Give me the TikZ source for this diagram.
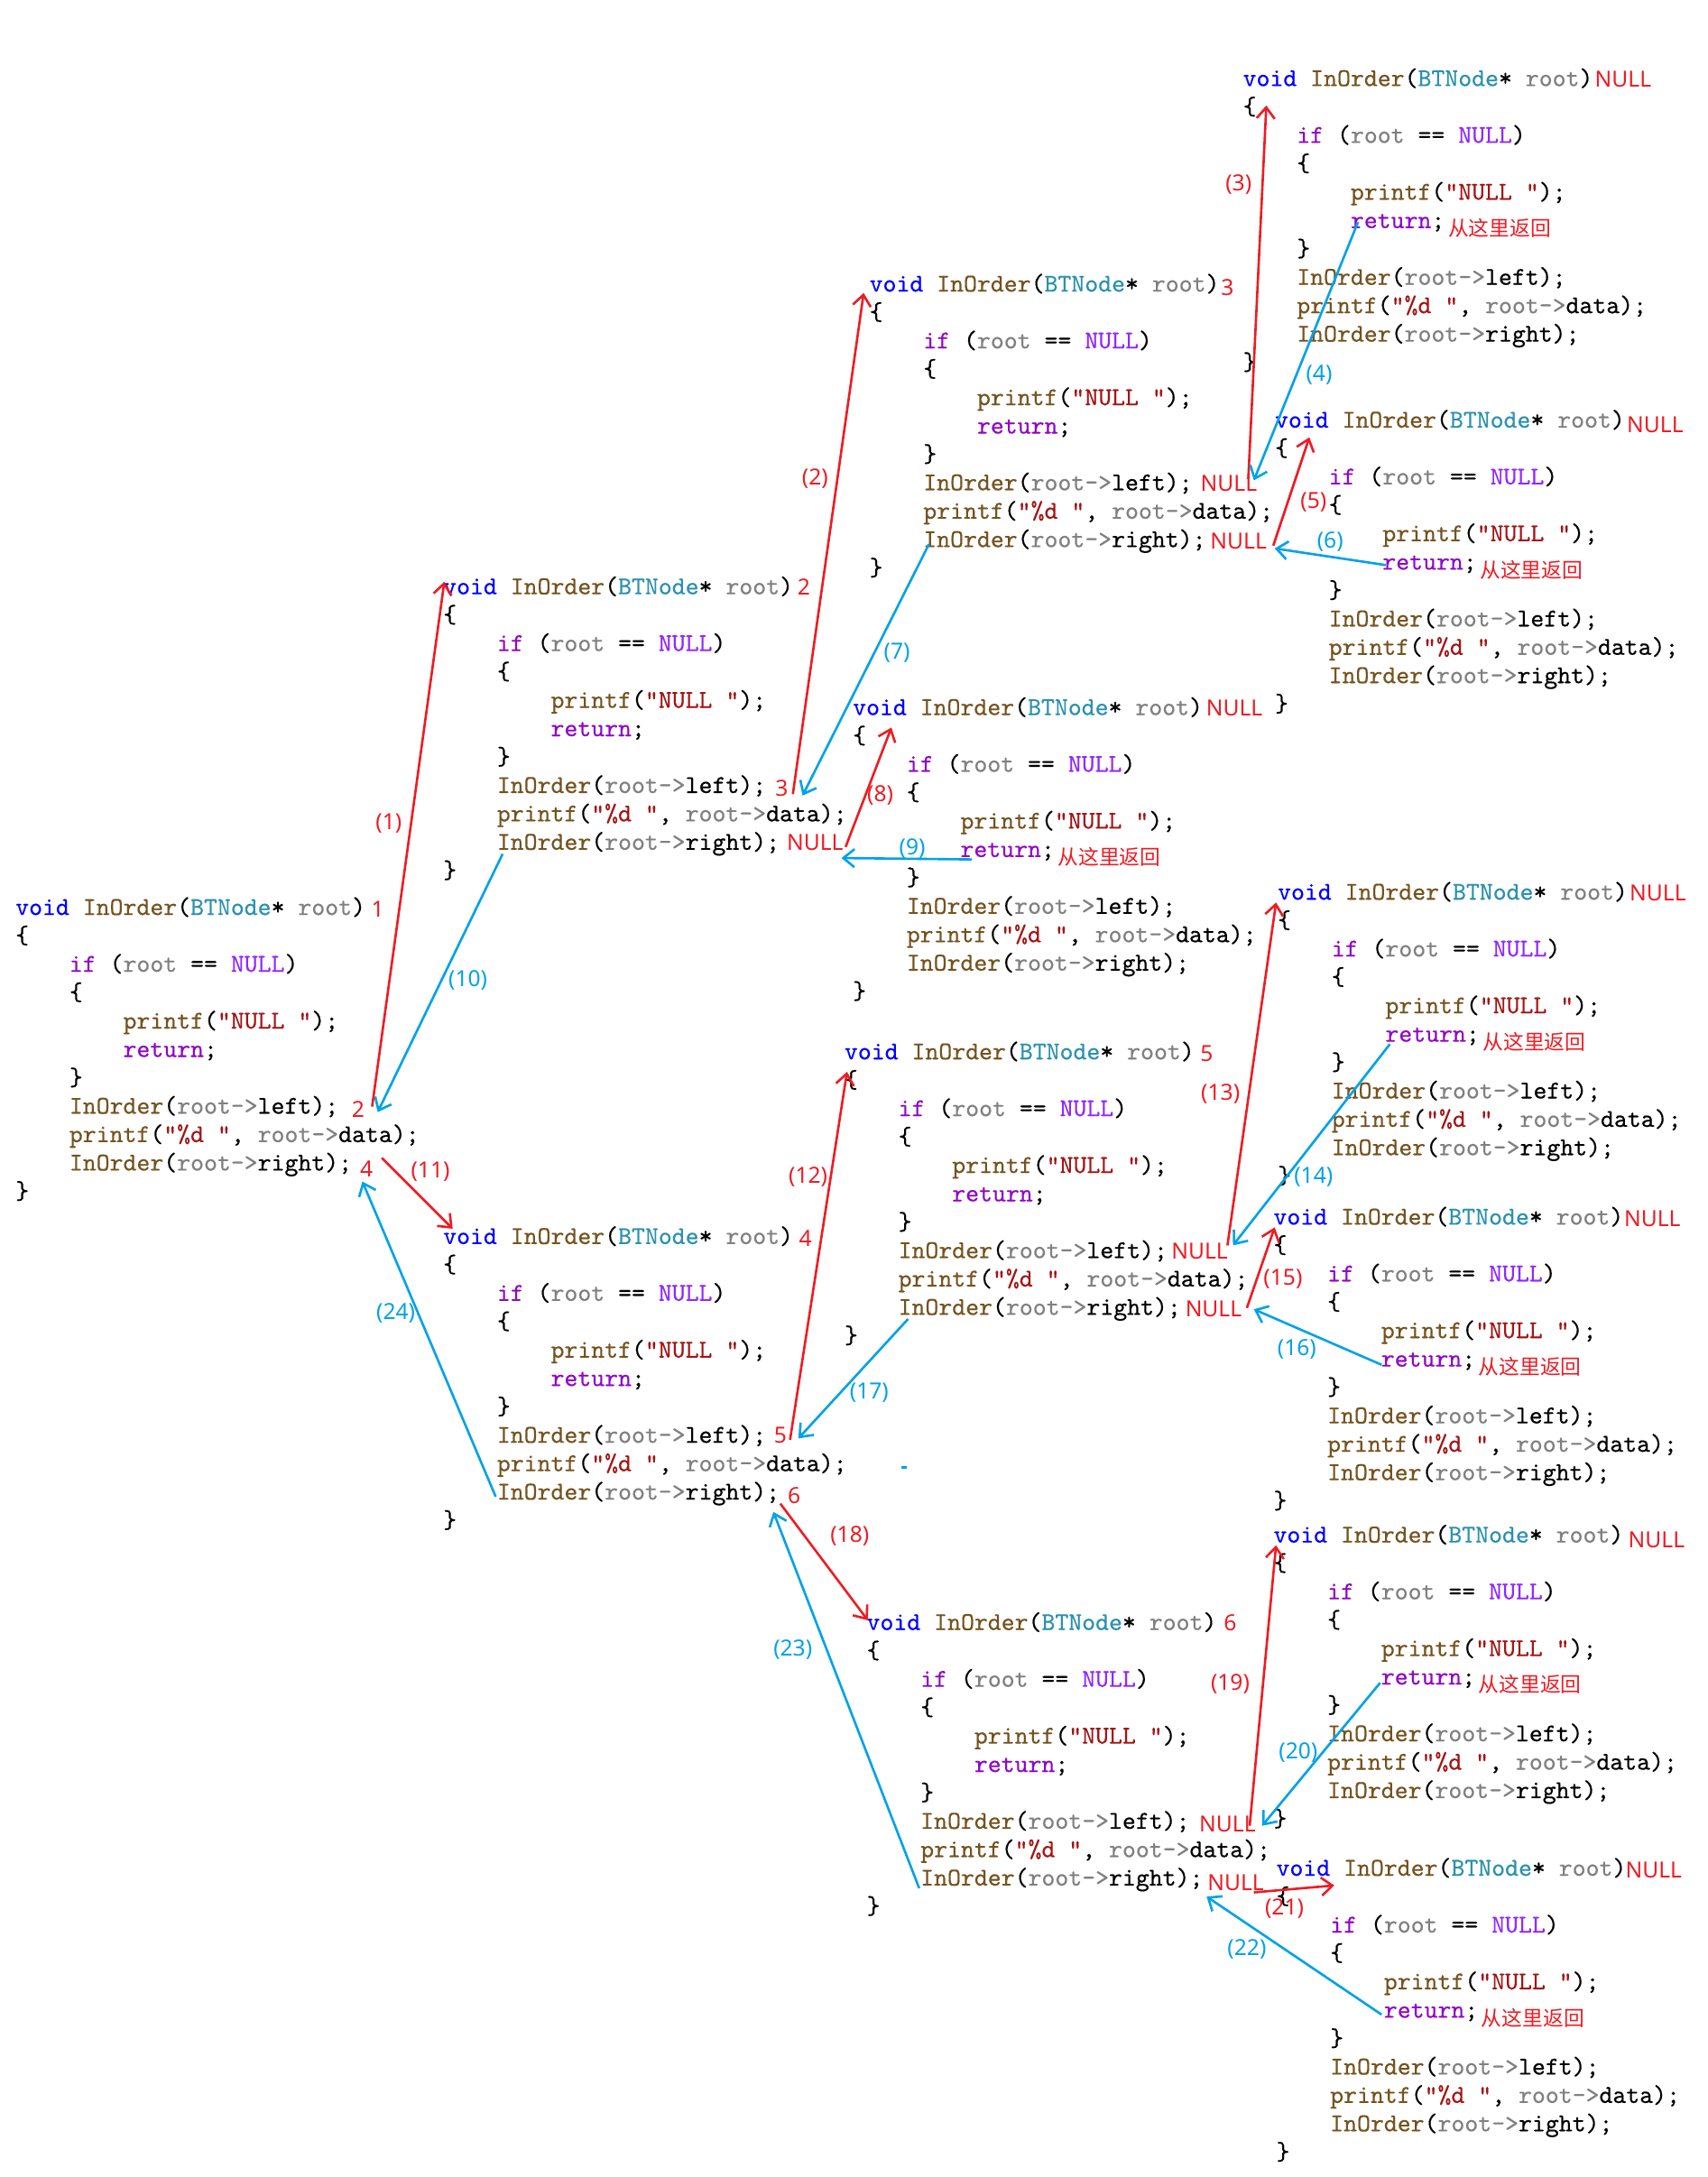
\documentclass[tikz,border=0pt]{standalone}
\usepackage{fontspec}
\usetikzlibrary{arrows.meta}
\newfontfamily\lblfont{Noto Sans}
\newfontfamily\cjkfont{Noto Sans CJK SC}
\newfontfamily\codefont{lmmono10-regular.otf}[FakeBold=0.4]
\definecolor{cvoid}{RGB}{0,0,255}
\definecolor{cfun}{RGB}{116,83,31}
\definecolor{ctype}{RGB}{43,145,175}
\definecolor{cpar}{RGB}{128,128,128}
\definecolor{ckw}{RGB}{143,8,196}
\definecolor{cmac}{RGB}{145,40,255}
\definecolor{cstr}{RGB}{163,21,21}
\definecolor{pred}{RGB}{237,28,36}
\definecolor{pblue}{RGB}{0,162,232}
\newcommand{\cw}{9.69}
\newcommand{\ls}{20.45}
\newcommand{\hdr}{\textcolor{cvoid}{void} \textcolor{cfun}{InOrder}(\textcolor{ctype}{BTNode}* \textcolor{cpar}{root})}
\newcommand{\rt}{\textcolor{cpar}{root->}}
\newcommand{\codeblock}[3]{%
 \node[code] (#1-0) at ({#2},{#3+5}) {\hdr};
 \node[code] (#1-1) at ({#2},{#3+5+\ls}) {\{};
 \node[code] (#1-2) at ({#2+4*\cw},{#3+5+2*\ls}) {\textcolor{ckw}{if} (\textcolor{cpar}{root} == \textcolor{cmac}{NULL})};
 \node[code] (#1-3) at ({#2+4*\cw},{#3+5+3*\ls}) {\{};
 \node[code] (#1-4) at ({#2+8*\cw},{#3+5+4*\ls}) {\textcolor{cfun}{printf}(\textcolor{cstr}{"NULL "});};
 \node[code] (#1-5) at ({#2+8*\cw},{#3+5+5*\ls}) {\textcolor{ckw}{return};};
 \node[code] (#1-6) at ({#2+4*\cw},{#3+5+6*\ls}) {\}};
 \node[code] (#1-7) at ({#2+4*\cw},{#3+5+7*\ls}) {\textcolor{cfun}{InOrder}(\rt left);};
 \node[code] (#1-8) at ({#2+4*\cw},{#3+5+8*\ls}) {\textcolor{cfun}{printf}(\textcolor{cstr}{"\%d "}, \rt data);};
 \node[code] (#1-9) at ({#2+4*\cw},{#3+5+9*\ls}) {\textcolor{cfun}{InOrder}(\rt right);};
 \node[code] (#1-10) at ({#2},{#3+5+10*\ls}) {\}};
}
\tikzset{
 code/.style={anchor=base west, inner sep=0pt, font=\codefont\fontsize{18.46}{20}\selectfont},
 lbl/.style={inner sep=0pt, font=\fontsize{16}{18}\selectfont\lblfont},
 rl/.style={lbl, text=pred},
 bl/.style={lbl, text=pblue},
 cjk/.style={inner sep=0pt, anchor=west, text=pred, font=\fontsize{14.8}{18}\selectfont\cjkfont},
 rarr/.style={draw=pred, line width=1.7pt, -{Straight Barb[length=8pt,width=13pt]}},
 barr/.style={draw=pblue, line width=1.7pt, -{Straight Barb[length=8pt,width=13pt]}},
}
\begin{document}
\begin{tikzpicture}[x=1pt,y=-1pt]
\fill[white] (0,0) rectangle (1230,1568);
\useasboundingbox (0,0) rectangle (1230,1568);
% code blocks
\codeblock{A}{11}{654}
\codeblock{B}{319}{423}
\codeblock{C}{626}{205}
\codeblock{D}{895}{57}
\codeblock{E}{918}{303}
\codeblock{F}{614}{510}
\codeblock{G}{319}{891}
\codeblock{H}{608}{758}
\codeblock{I}{920}{643}
\codeblock{J}{917}{877}
\codeblock{K}{624}{1169}
\codeblock{L}{917}{1106}
\codeblock{M}{919}{1346}
% value labels
\node[rl] (lA0) at (272,655) {1};
\node[rl] (lA7) at (258,799) {2};
\node[rl] (lA9) at (264,842) {4};
\node[rl] (lB0) at (579,423) {2};
\node[rl] (lB7) at (563,568) {3};
\node[rl] (lB9) at (587,607) {NULL};
\node[rl] (lC0) at (884,207) {3};
\node[rl] (lC7) at (885,348) {NULL};
\node[rl] (lC9) at (892,390) {NULL};
\node[rl] (lD0) at (1169,57) {NULL};
\node[rl] (lE0) at (1192,306) {NULL};
\node[rl] (lF0) at (889,510) {NULL};
\node[rl] (lG0) at (580,892) {4};
\node[rl] (lG7) at (562,1034) {5};
\node[rl] (lG9) at (572,1077) {6};
\node[rl] (lH0) at (869,759) {5};
\node[rl] (lH7) at (864,901) {NULL};
\node[rl] (lH9) at (874,943) {NULL};
\node[rl] (lI0) at (1194,643) {NULL};
\node[rl] (lJ0) at (1190,878) {NULL};
\node[rl] (lK0) at (886,1169) {6};
\node[rl] (lK7) at (884,1314) {NULL};
\node[rl] (lK9) at (890,1356) {NULL};
\node[rl] (lL0) at (1193,1109) {NULL};
\node[rl] (lM0) at (1191,1347) {NULL};
% return notes
\foreach \b in {D,E,F,I,J,L,M}{
 \node[cjk] (ret\b) at ([xshift=2pt]\b-5.base east) {从这里返回};
}
% arrow end points
\coordinate (a1s) at (268,797);  \coordinate (a1e) at (320,419);
\coordinate (a10s) at (362,615); \coordinate (a10e) at (272,801);
\coordinate (a11s) at (275,834); \coordinate (a11e) at (326,885);
\coordinate (a24s) at (357,1078); \coordinate (a24e) at (261,851);
\coordinate (a2s) at (571,572);  \coordinate (a2e) at (622,211);
\coordinate (a7s) at (669,392);  \coordinate (a7e) at (578,573);
\coordinate (a8s) at (609,610);  \coordinate (a8e) at (642,524);
\coordinate (a9s) at (700,619);  \coordinate (a9e) at (606,618);
\coordinate (a3s) at (899,345);  \coordinate (a3e) at (912,76);
\coordinate (a4s) at (978,160);  \coordinate (a4e) at (903,346);
\coordinate (a5s) at (917,393);  \coordinate (a5e) at (943,315);
\coordinate (a6s) at (998,407);  \coordinate (a6e) at (918,395);
\coordinate (a12s) at (569,1037); \coordinate (a12e) at (610,772);
\coordinate (a17s) at (654,950); \coordinate (a17e) at (575,1036);
\coordinate (a13s) at (884,897); \coordinate (a13e) at (919,650);
\coordinate (a14s) at (1001,752); \coordinate (a14e) at (888,897);
\coordinate (a15s) at (898,942); \coordinate (a15e) at (918,884);
\coordinate (a16s) at (995,983); \coordinate (a16e) at (903,943);
\coordinate (a18s) at (562,1083); \coordinate (a18e) at (625,1167);
\coordinate (a23s) at (662,1360); \coordinate (a23e) at (557,1089);
\coordinate (a19s) at (900,1315); \coordinate (a19e) at (919,1113);
\coordinate (a20s) at (994,1212); \coordinate (a20e) at (909,1315);
\coordinate (a21s) at (903,1363); \coordinate (a21e) at (961,1358);
\coordinate (a22s) at (995,1451); \coordinate (a22e) at (869,1366);
% arrows
\foreach \n in {1,11,2,8,3,5,12,13,15,18,19,21}{ \draw[rarr] (a\n s) -- (a\n e); }
\foreach \n in {10,24,7,9,4,6,17,14,16,23,20,22}{ \draw[barr] (a\n s) -- (a\n e); }
% step labels
\node[rl] (s1) at (280,593) {(1)};
\node[bl] (s10) at (337,706) {(10)};
\node[rl] (s11) at (310,844) {(11)};
\node[bl] (s24) at (285,946) {(24)};
\node[rl] (s2) at (587,345) {(2)};
\node[bl] (s7) at (646,470) {(7)};
\node[rl] (s8) at (634,573) {(8)};
\node[bl] (s9) at (657,611) {(9)};
\node[rl] (s3) at (892,133) {(3)};
\node[bl] (s4) at (950,270) {(4)};
\node[rl] (s5) at (946,362) {(5)};
\node[bl] (s6) at (958,390) {(6)};
\node[rl] (s12) at (582,848) {(12)};
\node[bl] (s17) at (626,1003) {(17)};
\node[rl] (s13) at (879,788) {(13)};
\node[bl] (s14) at (946,848) {(14)};
\node[rl] (s15) at (924,921) {(15)};
\node[bl] (s16) at (934,972) {(16)};
\node[rl] (s18) at (612,1106) {(18)};
\node[bl] (s23) at (571,1188) {(23)};
\node[rl] (s19) at (886,1213) {(19)};
\node[bl] (s20) at (935,1262) {(20)};
\node[rl] (s21) at (925,1375) {(21)};
\node[bl] (s22) at (898,1404) {(22)};
% stray mark
\coordinate (dash1) at (649,1057); \coordinate (dash2) at (653,1057);
\draw[pblue, line width=1.5pt] (dash1) -- (dash2);
\end{tikzpicture}
\end{document}
